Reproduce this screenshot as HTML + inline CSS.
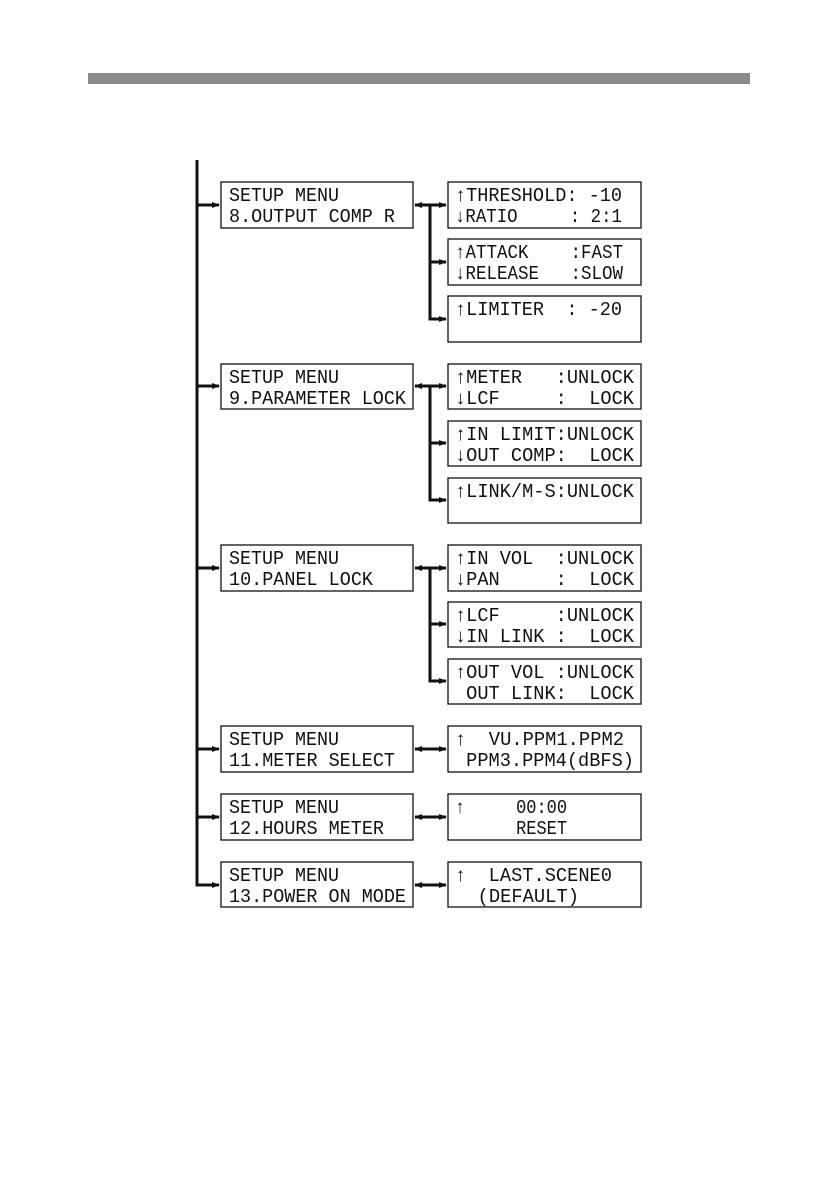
<!DOCTYPE html>
<html><head><meta charset="utf-8"><style>
html,body{margin:0;padding:0;background:#fff;}
svg{display:block;}
text{font-family:"Liberation Mono","DejaVu Sans Mono",monospace;font-size:19px;fill:#111;white-space:pre;}
</style></head><body>
<svg width="840" height="1190" viewBox="0 0 840 1190" xmlns="http://www.w3.org/2000/svg">
<defs>
<marker id="ah" markerWidth="8" markerHeight="8" refX="7" refY="4" orient="auto" markerUnits="userSpaceOnUse">
<path d="M0,1 L8,4 L0,7 Z" fill="#111"/></marker>
<marker id="as" markerWidth="8" markerHeight="8" refX="1" refY="4" orient="auto" markerUnits="userSpaceOnUse">
<path d="M8,1 L0,4 L8,7 Z" fill="#111"/></marker>
</defs>
<rect x="88" y="73" width="662" height="11" fill="#8a8a8a"/>
<g stroke="#111" stroke-width="3" fill="none">
<path d="M197,160 V885 H219" marker-end="url(#ah)"/>
<path d="M197,205 H219" marker-end="url(#ah)"/>
<path d="M197,386 H219" marker-end="url(#ah)"/>
<path d="M197,568 H219" marker-end="url(#ah)"/>
<path d="M197,749 H219" marker-end="url(#ah)"/>
<path d="M197,817 H219" marker-end="url(#ah)"/>
<path d="M415,205 H446" marker-start="url(#as)" marker-end="url(#ah)"/>
<path d="M430,205 V319 H446" marker-end="url(#ah)"/>
<path d="M430,262 H446" marker-end="url(#ah)"/>
<path d="M415,386 H446" marker-start="url(#as)" marker-end="url(#ah)"/>
<path d="M430,386 V500 H446" marker-end="url(#ah)"/>
<path d="M430,443 H446" marker-end="url(#ah)"/>
<path d="M415,568 H446" marker-start="url(#as)" marker-end="url(#ah)"/>
<path d="M430,568 V681 H446" marker-end="url(#ah)"/>
<path d="M430,624 H446" marker-end="url(#ah)"/>
<path d="M415,749 H446" marker-start="url(#as)" marker-end="url(#ah)"/>
<path d="M415,817 H446" marker-start="url(#as)" marker-end="url(#ah)"/>
<path d="M415,885 H446" marker-start="url(#as)" marker-end="url(#ah)"/>
</g>
<g stroke="#111" stroke-width="1.3" fill="#fff">
<rect x="221" y="182" width="192" height="46"/>
<rect x="221" y="364" width="192" height="45"/>
<rect x="221" y="545" width="192" height="46"/>
<rect x="221" y="726" width="192" height="46"/>
<rect x="221" y="794" width="192" height="46"/>
<rect x="221" y="862" width="192" height="45"/>
<rect x="448" y="182" width="193" height="46"/>
<rect x="448" y="239" width="193" height="46"/>
<rect x="448" y="296" width="193" height="46"/>
<rect x="448" y="364" width="193" height="45"/>
<rect x="448" y="421" width="193" height="45"/>
<rect x="448" y="478" width="193" height="45"/>
<rect x="448" y="545" width="193" height="46"/>
<rect x="448" y="602" width="193" height="45"/>
<rect x="448" y="659" width="193" height="45"/>
<rect x="448" y="726" width="193" height="46"/>
<rect x="448" y="794" width="193" height="46"/>
<rect x="448" y="862" width="193" height="45"/>
</g>
<g>
<text x="229" y="201" textLength="110" lengthAdjust="spacingAndGlyphs">SETUP MENU</text>
<text x="229" y="222" textLength="166" lengthAdjust="spacingAndGlyphs">8.OUTPUT COMP R</text>
<text x="229" y="383" textLength="110" lengthAdjust="spacingAndGlyphs">SETUP MENU</text>
<text x="229" y="404" textLength="177" lengthAdjust="spacingAndGlyphs">9.PARAMETER LOCK</text>
<text x="229" y="564" textLength="110" lengthAdjust="spacingAndGlyphs">SETUP MENU</text>
<text x="229" y="585" textLength="144" lengthAdjust="spacingAndGlyphs">10.PANEL LOCK</text>
<text x="229" y="745" textLength="110" lengthAdjust="spacingAndGlyphs">SETUP MENU</text>
<text x="229" y="766" textLength="166" lengthAdjust="spacingAndGlyphs">11.METER SELECT</text>
<text x="229" y="813" textLength="110" lengthAdjust="spacingAndGlyphs">SETUP MENU</text>
<text x="229" y="834" textLength="155" lengthAdjust="spacingAndGlyphs">12.HOURS METER</text>
<text x="229" y="881" textLength="110" lengthAdjust="spacingAndGlyphs">SETUP MENU</text>
<text x="229" y="902" textLength="177" lengthAdjust="spacingAndGlyphs">13.POWER ON MODE</text>

<text x="455" y="201" textLength="167" lengthAdjust="spacingAndGlyphs">↑THRESHOLD: -10</text>
<text x="455" y="222" textLength="167" lengthAdjust="spacingAndGlyphs">↓RATIO     : 2:1</text>
<text x="455" y="258" textLength="168" lengthAdjust="spacingAndGlyphs">↑ATTACK    :FAST</text>
<text x="455" y="279" textLength="168" lengthAdjust="spacingAndGlyphs">↓RELEASE   :SLOW</text>
<text x="455" y="315" textLength="167" lengthAdjust="spacingAndGlyphs">↑LIMITER  : -20</text>
<text x="455" y="383" textLength="179" lengthAdjust="spacingAndGlyphs">↑METER   :UNLOCK</text>
<text x="455" y="404" textLength="179" lengthAdjust="spacingAndGlyphs">↓LCF     :  LOCK</text>
<text x="455" y="440" textLength="179" lengthAdjust="spacingAndGlyphs">↑IN LIMIT:UNLOCK</text>
<text x="455" y="461" textLength="179" lengthAdjust="spacingAndGlyphs">↓OUT COMP:  LOCK</text>
<text x="455" y="497" textLength="179" lengthAdjust="spacingAndGlyphs">↑LINK/M-S:UNLOCK</text>
<text x="455" y="564" textLength="179" lengthAdjust="spacingAndGlyphs">↑IN VOL  :UNLOCK</text>
<text x="455" y="585" textLength="179" lengthAdjust="spacingAndGlyphs">↓PAN     :  LOCK</text>
<text x="455" y="621" textLength="179" lengthAdjust="spacingAndGlyphs">↑LCF     :UNLOCK</text>
<text x="455" y="642" textLength="179" lengthAdjust="spacingAndGlyphs">↓IN LINK :  LOCK</text>
<text x="455" y="678" textLength="179" lengthAdjust="spacingAndGlyphs">↑OUT VOL :UNLOCK</text>
<text x="455" y="699" textLength="179" lengthAdjust="spacingAndGlyphs"> OUT LINK:  LOCK</text>
<text x="455" y="745" textLength="169" lengthAdjust="spacingAndGlyphs">↑  VU.PPM1.PPM2</text>
<text x="455" y="766" textLength="179" lengthAdjust="spacingAndGlyphs"> PPM3.PPM4(dBFS)</text>
<text x="455" y="813" textLength="112" lengthAdjust="spacingAndGlyphs">↑     00:00</text>
<text x="455" y="834" textLength="112" lengthAdjust="spacingAndGlyphs">      RESET</text>
<text x="455" y="881" textLength="157" lengthAdjust="spacingAndGlyphs">↑  LAST.SCENE0</text>
<text x="455" y="902" textLength="124" lengthAdjust="spacingAndGlyphs">  (DEFAULT)</text>
</g>
</svg>
</body></html>
